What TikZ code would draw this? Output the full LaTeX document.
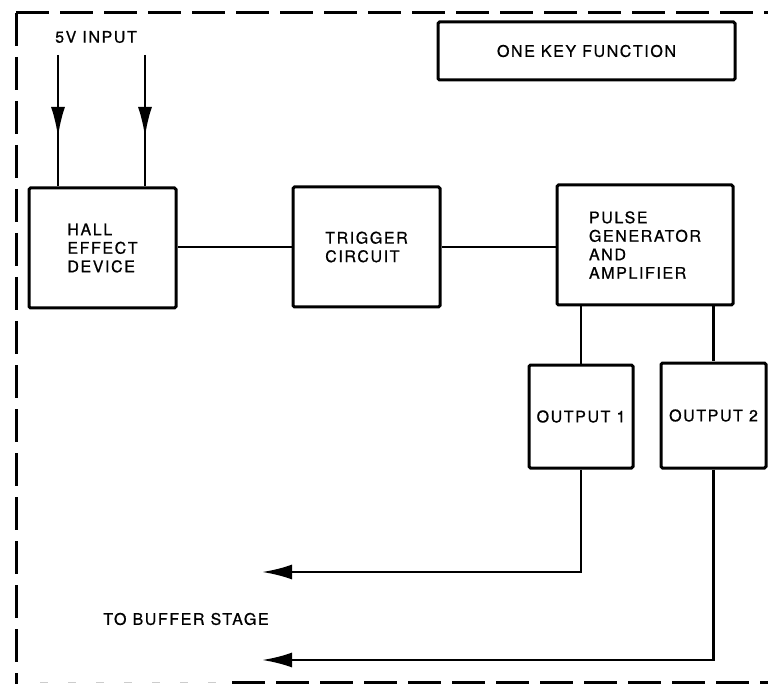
\documentclass[tikz,border=0pt]{standalone}
\usepackage{fontspec}
\setmainfont{TeX Gyre Heros}[LetterSpace=10,FakeBold=0.8]
\usetikzlibrary{arrows.meta,decorations.markings}

\tikzset{
  blk/.style={draw,line width=3pt,rounded corners=1.5pt,align=left,inner sep=0pt},
  wire/.style={line width=2.7pt},
  frameline/.style={line width=3pt,dash pattern=on 33pt off 11pt},
  bigtip/.style={-{Latex[length=30pt,width=15pt]}},
  feed/.style={wire,postaction={decorate},
    decoration={markings,mark=at position 82pt with {\arrow{Latex[length=30pt,width=14pt]}}}}
}

\begin{document}
\begin{tikzpicture}[x=1pt,y=-1pt,font=\fontsize{16pt}{18.5pt}\selectfont]
  \useasboundingbox (0,0) rectangle (768,684);

  % dashed outline of the key module
  \draw[frameline] (16,13) -- (768,13);
  \draw[frameline] (16,13) -- (16,684);
  \draw[frameline] (232,682) -- (768,682);
  \draw[line width=0.6pt,gray!40,dash pattern=on 8pt off 20pt] (40,682) -- (232,682);

  \node[blk,minimum width=297pt,minimum height=58pt] (onekey) at (586.5,51) {ONE KEY FUNCTION};
  \node (vin) at (96,37) {5V INPUT};

  % blocks
  \node[blk,minimum width=147pt,minimum height=120pt] (hall) at (102.5,248) {HALL\\EFFECT\\DEVICE};
  \node[blk,minimum width=147pt,minimum height=120pt] (trig) at (366.5,247) {TRIGGER\\CIRCUIT};
  \node[blk,minimum width=176pt,minimum height=120pt] (pulse) at (645,245) {PULSE\\GENERATOR\\AND\\AMPLIFIER};
  \node[blk,minimum width=104pt,minimum height=103pt] (out1) at (581,416.5) {OUTPUT 1};
  \node[blk,minimum width=105pt,minimum height=105pt] (out2) at (713.5,415.5) {OUTPUT 2};

  \node (tobuf) at (186,619) {TO BUFFER STAGE};

  % supply inputs
  \coordinate (in1) at (58,55);
  \coordinate (in2) at (145,55);
  \draw[feed] (in1) -- (in1 |- hall.north);
  \draw[feed] (in2) -- (in2 |- hall.north);

  % signal path
  \draw[wire] (trig.west) -- (trig.west -| hall.east);
  \draw[wire] (trig.east) -- (trig.east -| pulse.west);
  \draw[wire] (pulse.south -| out1.north) -- (out1.north);
  \draw[wire] (pulse.south -| out2.north) -- (out2.north);

  % to buffer stage
  \coordinate (buf1) at (262,572);
  \coordinate (buf2) at (262,660);
  \draw[wire,bigtip] (out1.south) |- (buf1);
  \draw[wire,bigtip] (out2.south) |- (buf2);
\end{tikzpicture}
\end{document}
